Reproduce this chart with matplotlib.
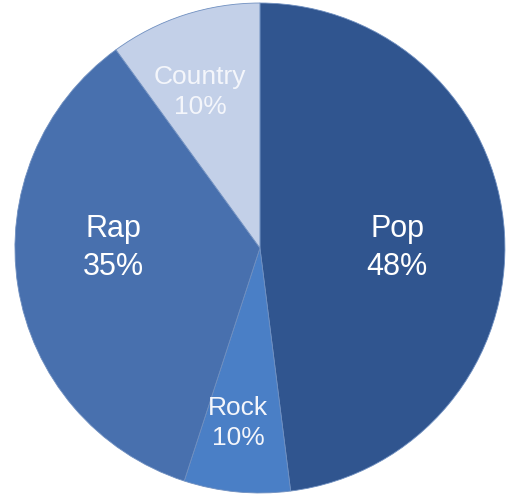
import matplotlib
matplotlib.use('Agg')
import matplotlib.pyplot as plt

# wedge shares as drawn (clockwise from 12 o'clock)
genres = ['Pop', 'Rock', 'Rap', 'Country']
shares = [48, 7, 35, 10]
percent_labels = ['48%', '10%', '35%', '10%']
colors = ['#30558f', '#4a7fc6', '#4870ae', '#c3d0e8']

plt.rcParams['font.family'] = ['Liberation Sans', 'DejaVu Sans']

fig = plt.figure(figsize=(5.13, 4.95), dpi=100)
ax = fig.add_axes([0, 0, 1, 1])

wedges, _ = ax.pie(shares, colors=colors, startangle=90, counterclock=False,
                   radius=1.0, wedgeprops=dict(edgecolor='#6f8fc0', linewidth=0.6))

# label positions (data coords) and sizes
label_pos = [(0.56, 0.0), (-0.09, -0.715), (-0.60, 0.0), (-0.245, 0.637)]
label_size = [22, 19, 22, 19]
label_color = ['white', '#f4f6fb', 'white', '#f4f6fb']
for g, p, pos, fs, c in zip(genres, percent_labels, label_pos, label_size, label_color):
    ax.text(pos[0], pos[1], g + '\n' + p, ha='center', va='center',
            fontsize=fs, color=c, linespacing=1.33)

ax.set_xlim(-1.061, 1.033)
ax.set_ylim(-1.008, 1.012)
ax.set_aspect('equal')
ax.axis('off')

fig.savefig('out.png', dpi=100, facecolor='white')
